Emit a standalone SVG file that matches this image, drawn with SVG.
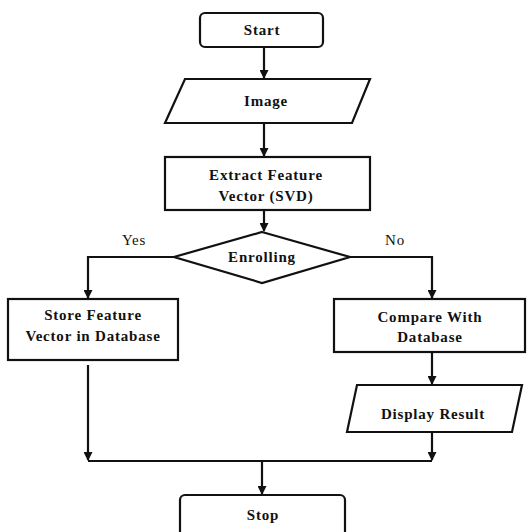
<svg xmlns="http://www.w3.org/2000/svg" width="531" height="532" viewBox="0 0 531 532">
<style>
.s{fill:#fff;stroke:#111;stroke-width:2.2}
.c{fill:none;stroke:#111;stroke-width:2.2}
.t{font-family:"Liberation Serif",serif;font-weight:bold;font-size:15px;letter-spacing:0.8px;fill:#111;text-anchor:middle}
.l{font-family:"Liberation Serif",serif;font-size:15px;letter-spacing:0.8px;fill:#111;text-anchor:middle}
</style>
<defs>
<marker id="a" markerWidth="9" markerHeight="9" refX="8" refY="4.5" orient="auto" markerUnits="userSpaceOnUse">
<path d="M0,0 L9,4.5 L0,9 Z" fill="#111"/>
</marker>
</defs>
<rect width="531" height="532" fill="#fff"/>
<g id="connectors">
<path class="c" d="M264,47 V78" marker-end="url(#a)"/>
<path class="c" d="M264,123 V156" marker-end="url(#a)"/>
<path class="c" d="M264,210 V231" marker-end="url(#a)"/>
<path class="c" d="M174,257 H88 V298" marker-end="url(#a)"/>
<path class="c" d="M350,257 H432 V298" marker-end="url(#a)"/>
<path class="c" d="M432,352 V384" marker-end="url(#a)"/>
<path class="c" d="M88,365 V460" marker-end="url(#a)"/>
<path class="c" d="M432,432 V460" marker-end="url(#a)"/>
<path class="c" d="M88,461 H432"/>
<path class="c" d="M262,461 V494" marker-end="url(#a)"/>
<text class="l" x="134" y="245">Yes</text>
<text class="l" x="395" y="245">No</text>
</g>
<g id="start"><rect class="s" x="200" y="13" width="123" height="34" rx="5"/><text class="t" x="262" y="35">Start</text></g>
<g id="image"><polygon class="s" points="185,79 370,79 352,123 165,123"/><text class="t" x="266" y="106">Image</text></g>
<g id="extract"><rect class="s" x="165" y="157" width="205" height="53"/><text class="t" x="266" y="180">Extract Feature</text><text class="t" x="266" y="201">Vector (SVD)</text></g>
<g id="enrolling"><polygon class="s" points="262,232 350,257 262,283 174,257"/><text class="t" x="262" y="262">Enrolling</text></g>
<g id="store"><rect class="s" x="8" y="299" width="170" height="61"/><text class="t" x="93" y="320">Store Feature</text><text class="t" x="93" y="341">Vector in Database</text></g>
<g id="compare"><rect class="s" x="334" y="299" width="191" height="53"/><text class="t" x="430" y="322">Compare With</text><text class="t" x="430" y="342">Database</text></g>
<g id="display"><polygon class="s" points="357,385 522,385 512,432 347,432"/><text class="t" x="433" y="419">Display Result</text></g>
<g id="stop"><rect class="s" x="180" y="495" width="165" height="45" rx="5"/><text class="t" x="263" y="520">Stop</text></g>
</svg>
